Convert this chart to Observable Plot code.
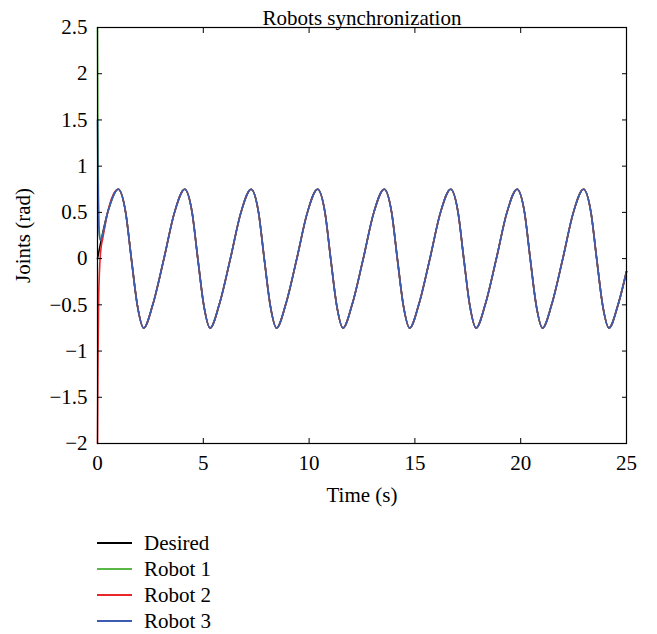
<!DOCTYPE html>
<html><head><meta charset="utf-8">
<script src="https://cdn.jsdelivr.net/npm/d3@7"></script>
<script src="https://cdn.jsdelivr.net/npm/@observablehq/plot@0.6"></script>
<style>
body{margin:0;background:#fff;font-family:"Liberation Serif",serif;}
#legend{margin-top:20px;font-size:21px;color:#000;}
.row{display:flex;align-items:center;height:26px;}
.sw{display:block;width:35px;height:2px;margin-left:97px;margin-right:12px;}
</style></head><body><div id="chart"></div><div id="legend"></div>
<script>
const title = "Robots synchronization";
const xLabel = "Time (s)";
const yLabel = "Joints (rad)";
const xTicks = [0, 5, 10, 15, 20, 25];
const yTicks = [-2, -1.5, -1, -0.5, 0, 0.5, 1, 1.5, 2, 2.5];
const seriesNames = ["Desired", "Robot 1", "Robot 2", "Robot 3"];
const seriesColors = ["#000000", "#5cb846", "#e8262a", "#3b5cb0"];

// Desired trajectory, key points
const desiredT = [0, 0.48, 0.98, 1.33, 1.60, 1.88, 2.18, 2.61, 3.14, 3.64,
  4.12, 4.47, 4.74, 5.02, 5.32, 5.75, 6.28, 6.78,
  7.26, 7.61, 7.88, 8.16, 8.46, 8.89, 9.42, 9.92,
  10.40, 10.75, 11.02, 11.30, 11.60, 12.03, 12.56, 13.06,
  13.55, 13.90, 14.17, 14.45, 14.75, 15.18, 15.71, 16.21,
  16.69, 17.04, 17.31, 17.59, 17.89, 18.32, 18.85, 19.35,
  19.83, 20.18, 20.45, 20.73, 21.03, 21.46, 21.99, 22.49,
  22.97, 23.32, 23.59, 23.87, 24.17, 24.60, 25.0];
const desiredY = [0, 0.5, 0.75, 0.5, 0, -0.5, -0.75, -0.5, 0, 0.5,
  0.75, 0.5, 0, -0.5, -0.75, -0.5, 0, 0.5,
  0.75, 0.5, 0, -0.5, -0.75, -0.5, 0, 0.5,
  0.75, 0.5, 0, -0.5, -0.75, -0.5, 0, 0.5,
  0.75, 0.5, 0, -0.5, -0.75, -0.5, 0, 0.5,
  0.75, 0.5, 0, -0.5, -0.75, -0.5, 0, 0.5,
  0.75, 0.5, 0, -0.5, -0.75, -0.5, 0, 0.5,
  0.75, 0.5, 0, -0.5, -0.75, -0.5, -0.14];

// Initial transients of the robots before they lock onto the desired path
const robot1T = [0, 0.02, 0.05, 0.09, 0.14];
const robot1Y = [2.5, 1.4, 0.6, 0.28, 0.2];
const robot2T = [0, 0.02, 0.05, 0.10, 0.16, 0.25];
const robot2Y = [-2, -1.2, -0.5, -0.1, 0.1, 0.22];
const robot3T = [0, 0.02, 0.05, 0.09, 0.14];
const robot3Y = [1.5, 0.9, 0.45, 0.25, 0.2];

const desired = desiredT.map((t, i) => ({t, y: desiredY[i], s: seriesNames[0]}));
function robot(ts, ys, name) {
  const head = ts.map((t, i) => ({t, y: ys[i], s: name}));
  const tail = desired.filter(d => d.t > ts[ts.length - 1]).map(d => ({t: d.t, y: d.y, s: name}));
  return head.concat(tail);
}
const r1 = robot(robot1T, robot1Y, seriesNames[1]);
const r2 = robot(robot2T, robot2Y, seriesNames[2]);
const r3 = robot(robot3T, robot3Y, seriesNames[3]);

const fmt = d => (d < 0 ? "\u2212" : "") + Math.abs(d);

const chart = Plot.plot({
  width: 657, height: 510,
  marginTop: 27, marginBottom: 67, marginLeft: 97, marginRight: 31,
  style: {fontFamily: "'Liberation Serif', serif", fontSize: "21px", color: "black", background: "white", overflow: "visible"},
  x: {domain: [0, 25]},
  y: {domain: [-2, 2.5]},
  marks: [
    Plot.line(desired, {x: "t", y: "y", stroke: seriesColors[0], strokeWidth: 1.6, curve: "monotone-x"}),
    Plot.line(r1, {x: "t", y: "y", stroke: seriesColors[1], strokeWidth: 1.6, curve: "monotone-x"}),
    Plot.line(r2, {x: "t", y: "y", stroke: seriesColors[2], strokeWidth: 1.6, curve: "monotone-x"}),
    Plot.line(r3, {x: "t", y: "y", stroke: seriesColors[3], strokeWidth: 1.6, curve: "monotone-x"}),
    Plot.frame({stroke: "black", strokeWidth: 1.2}),
    Plot.axisX(xTicks, {anchor: "bottom", tickSize: -5, tickPadding: 17, tickFormat: fmt, label: xLabel, labelAnchor: "center", labelOffset: 58, labelArrow: "none"}),
    Plot.axisX(xTicks, {anchor: "top", tickSize: -5, tickFormat: () => "", label: null}),
    Plot.axisY(yTicks, {anchor: "left", tickSize: -5, tickPadding: 15, tickFormat: fmt, label: yLabel, labelAnchor: "center", labelOffset: 82, labelArrow: "none"}),
    Plot.axisY(yTicks, {anchor: "right", tickSize: -5, tickFormat: () => "", label: null}),
    Plot.text([title], {frameAnchor: "top", dy: -17, fontSize: 21})
  ]
});
document.getElementById("chart").appendChild(chart);

const leg = document.getElementById("legend");
seriesNames.forEach((n, i) => {
  const row = document.createElement("div");
  row.className = "row";
  const sw = document.createElement("span");
  sw.className = "sw";
  sw.style.backgroundColor = seriesColors[i];
  const tx = document.createElement("span");
  tx.textContent = n;
  row.appendChild(sw); row.appendChild(tx);
  leg.appendChild(row);
});
</script>
</body></html>
